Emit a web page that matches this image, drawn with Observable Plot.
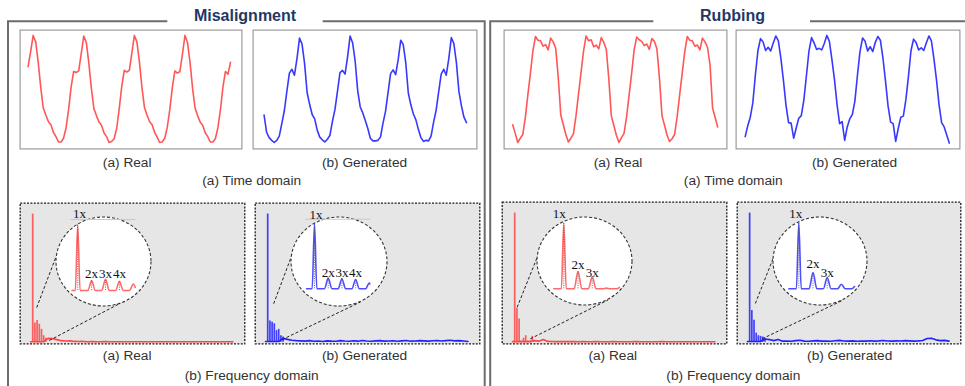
<!DOCTYPE html>
<html><head><meta charset="utf-8">
<script src="https://cdn.jsdelivr.net/npm/d3@7"></script>
<script src="https://cdn.jsdelivr.net/npm/@observablehq/plot@0.6"></script>
<style>
body{margin:0;background:#fff;}
#fig{position:relative;width:965px;height:386px;overflow:hidden;background:#fff;}
</style></head><body><div id="fig"></div>
<script>
// ---------------- DATA ----------------
const panelTitles = ["Misalignment", "Rubbing"];
const subLabels = ["(a) Real", "(b) Generated"];
const rowLabels = ["(a) Time domain", "(b) Frequency domain"];
const misInsetLabels = ["1x", "2x", "3x", "4x"];
const rubInsetLabels = ["1x", "2x", "3x"];

// time-domain waveforms (one value per sample)
const misRealWave = [0.42, 0.70,
 1.00, 0.88, 0.50, 0.03, -0.35, -0.48, -0.60, -0.66, -0.80, -0.88, -0.98, -0.98, -0.91, -0.72, -0.38, 0.04, 0.33, 0.31, 0.34, 0.66,
 0.99, 0.87, 0.49, 0.02, -0.36, -0.49, -0.61, -0.67, -0.81, -0.88, -0.99, -0.97, -0.92, -0.73, -0.37, 0.05, 0.35, 0.32, 0.35, 0.67,
 1.00, 0.88, 0.51, 0.03, -0.34, -0.48, -0.60, -0.66, -0.80, -0.89, -0.99, -0.98, -0.91, -0.71, -0.38, 0.03, 0.34, 0.30, 0.33, 0.65,
 1.00, 0.87, 0.50, 0.02, -0.35, -0.49, -0.61, -0.67, -0.81, -0.88, -0.98, -0.98, -0.92, -0.72, -0.39, 0.04, 0.33, 0.28, 0.50];
const misGenWave = [-0.48, -0.80, -0.90, -0.95, -0.99, -0.95, -0.87, -0.64, -0.40, -0.04, 0.30, 0.37, 0.26, 0.57,
 0.95, 0.84, 0.48, -0.06, -0.28, -0.47, -0.55, -0.76, -0.89, -0.94, -0.98, -0.93, -0.86, -0.60, -0.38, -0.04, 0.31, 0.35, 0.28, 0.60,
 0.99, 0.86, 0.52, -0.03, -0.33, -0.44, -0.58, -0.73, -0.91, -0.96, -0.96, -0.95, -0.89, -0.63, -0.41, -0.06, 0.29, 0.36, 0.27, 0.55,
 0.91, 0.83, 0.49, -0.07, -0.29, -0.46, -0.57, -0.75, -0.90, -0.97, -0.95, -0.96, -0.87, -0.61, -0.39, -0.05, 0.28, 0.37, 0.26, 0.57,
 0.96, 0.85, 0.50, -0.04, -0.31, -0.52, -0.62];
const rubRealWave = [-0.66, -0.82, -0.99, -0.91, -0.84, -0.52, -0.10, 0.30, 0.72,
 0.98, 0.91, 0.90, 0.80, 0.83, 0.73, 0.95, 0.88, 0.76, 0.22, -0.48, -0.66, -0.84, -0.98, -0.91, -0.83, -0.50, -0.09, 0.31, 0.71,
 0.99, 0.90, 0.92, 0.79, 0.82, 0.75, 0.96, 0.87, 0.74, 0.18, -0.50, -0.68, -0.86, -0.99, -0.90, -0.82, -0.52, -0.11, 0.29, 0.73,
 0.97, 0.92, 0.89, 0.81, 0.84, 0.74, 0.94, 0.89, 0.75, 0.21, -0.49, -0.67, -0.85, -0.97, -0.92, -0.84, -0.51, -0.10, 0.30, 0.70,
 0.98, 0.91, 0.90, 0.80, 0.82, 0.73, 0.95, 0.88, 0.78, 0.45, -0.35, -0.52, -0.70];
const rubGenWave = [-0.88, -0.68, -0.52, -0.25, 0.27, 0.72,
 0.94, 0.88, 0.72, 0.78, 0.71, 0.86, 0.99, 0.90, 0.57, 0.16, -0.30, -0.62, -0.63, -0.91, -0.72, -0.54, -0.49, -0.20, 0.25, 0.71,
 0.96, 0.86, 0.74, 0.76, 0.73, 0.85, 1.00, 0.89, 0.55, 0.18, -0.28, -0.64, -0.60, -0.95, -0.70, -0.55, -0.47, -0.22, 0.26, 0.70,
 0.95, 0.89, 0.71, 0.79, 0.70, 0.87, 0.98, 0.91, 0.58, 0.15, -0.31, -0.61, -0.64, -0.97, -0.73, -0.52, -0.50, -0.19, 0.24, 0.72,
 0.93, 0.87, 0.73, 0.77, 0.72, 0.86, 0.99, 0.90, 0.56, 0.17, -0.29, -0.62, -0.70, -0.85, -1.00];

// spectra: harmonic amplitudes (orders 1x, 2x, ...) relative to 1x
const misRealHarm = [1.0, 0.15, 0.17, 0.14, 0.10, 0.05, 0.03];
const misGenHarm  = [1.0, 0.165, 0.155, 0.143, 0.09, 0.10, 0.05, 0.04];
const rubRealHarm = [1.0, 0.26, 0.18, 0.01, 0.03, 0.05, 0.01, 0.01, 0.045];
const rubGenHarm  = [1.0, 0.245, 0.17, 0.07, 0.05, 0.045, 0.04, 0.03];
// spectra: broadband floor, every 2 orders from 0
const misRealFloor = [0.004,0.004,0.004,0.004,0.03,0.028,0.02,0.012,0.009,0.01,0.006,0.005,0.006,0.004,0.005,0.004,0.004,0.005,0.003,0.004,0.004,0.003,0.004,0.003,0.004,0.003,0.003,0.004,0.003,0.003,0.004,0.003,0.003,0.003,0.004,0.003,0.003,0.003,0.003,0.004,0.003,0.003,0.003,0.003,0.003,0.003,0.003];
const misGenFloor = [0.005,0.005,0.005,0.005,0.03,0.022,0.015,0.012,0.01,0.008,0.012,0.007,0.009,0.006,0.010,0.008,0.007,0.012,0.009,0.007,0.011,0.008,0.013,0.009,0.007,0.010,0.012,0.008,0.009,0.011,0.007,0.010,0.013,0.008,0.009,0.012,0.010,0.008,0.011,0.013,0.009,0.012,0.015,0.010,0.012,0.009,0.006];
const rubRealFloor = [0.004,0.004,0.004,0.004,0.004,0.012,0.008,0.02,0.006,0.005,0.004,0.005,0.004,0.004,0.004,0.003,0.004,0.003,0.003,0.004,0.003,0.003,0.003,0.004,0.003,0.003,0.003,0.003,0.004,0.003,0.003,0.003,0.003,0.003,0.004,0.003,0.003,0.003,0.003,0.003,0.003,0.003,0.003,0.003,0.003,0.003,0.003];
const rubGenFloor = [0.005,0.005,0.005,0.005,0.025,0.02,0.012,0.02,0.008,0.009,0.007,0.012,0.015,0.008,0.007,0.010,0.012,0.008,0.009,0.007,0.011,0.014,0.009,0.008,0.010,0.007,0.009,0.008,0.011,0.008,0.010,0.013,0.009,0.008,0.010,0.009,0.012,0.010,0.008,0.010,0.013,0.028,0.03,0.018,0.012,0.014,0.008];

// ---------------- LAYOUT / STYLE ----------------
const RED = "#ff4545", BLUE = "#2222ff";
const fig = document.getElementById("fig");
function place(node, left, top, w, h, z) {
  const div = document.createElement("div");
  div.style.cssText = `position:absolute;left:${left}px;top:${top}px;width:${w}px;height:${h}px;z-index:${z}`;
  div.appendChild(node);
  fig.appendChild(div);
}

// background: panel frames and captions
const back = d3.create("svg").attr("width", 965).attr("height", 386)
  .style("position", "absolute").style("left", 0).style("top", 0);
const frameStyle = s => s.attr("fill", "none").attr("stroke", "#6c6c6c").attr("stroke-width", 2);
const panels = [
  {x0: 8, x1: 484.7, gapL: 167.3, gapR: 322.7, tx: 245},
  {x0: 490.2, x1: 975, gapL: 653.3, gapR: 810, tx: 732.5}
];
panels.forEach((p, i) => {
  frameStyle(back.append("path").attr("d", `M${p.gapL},21.3H${p.x0}V390`));
  frameStyle(back.append("path").attr("d", `M${p.gapR},21.3H${p.x1}V390`));
  back.append("text").attr("x", p.tx).attr("y", 20.5).attr("text-anchor", "middle")
    .attr("font-family", "Liberation Sans, Arial, sans-serif").attr("font-weight", "bold")
    .attr("font-size", 16).attr("fill", "#1f3864").text(panelTitles[i]);
});
const captionPos = [
  [subLabels[0], 127.2, 166.5], [subLabels[1], 364.5, 166.5], [rowLabels[0], 251.7, 185.4],
  [subLabels[0], 618, 166.5], [subLabels[1], 854.5, 166.5], [rowLabels[0], 733.3, 185.4],
  [subLabels[0], 127.2, 360.4], [subLabels[1], 364.5, 360.4], [rowLabels[1], 251.7, 379.8],
  [subLabels[0], 612.8, 360.4], [subLabels[1], 849.7, 360.4], [rowLabels[1], 733.3, 379.8]
];
captionPos.forEach(([t, x, y]) => back.append("text").attr("x", x).attr("y", y)
  .attr("text-anchor", "middle").attr("font-family", "Liberation Sans, Arial, sans-serif")
  .attr("font-size", 13.7).attr("fill", "#333").text(t));
fig.appendChild(back.node());

// ---------- time-domain plots ----------
function timePlot(values, color, w, h, xDomain) {
  return Plot.plot({
    width: w, height: h, margin: 0,
    x: {domain: xDomain, axis: null},
    y: {domain: [-1.12, 1.11], axis: null},
    style: {background: "#fff", overflow: "visible"},
    marks: [
      Plot.frame({stroke: "#9c9c9c", strokeWidth: 1.2, inset: 0.6}),
      Plot.lineY(values, {stroke: color, strokeWidth: 1.6, strokeOpacity: 0.9})
    ]
  });
}
const timeCfg = [
  {v: misRealWave, c: RED, left: 19, w: 223, dom: [-3.40, 84.74]},
  {v: misGenWave, c: BLUE, left: 252, w: 225, dom: [-4.58, 84.35]},
  {v: rubRealWave, c: RED, left: 503, w: 224, dom: [-3.64, 84.9]},
  {v: rubGenWave, c: BLUE, left: 735, w: 225, dom: [-3.8, 84.4]}
];
timeCfg.forEach(t => place(timePlot(t.v, t.c, t.w, 120, t.dom), t.left, 29, t.w, 120, 1));

// ---------- frequency-domain plots ----------
const FX = [-5, 97.7], FY = [-0.018, 1.09];
const freqCfg = [
  {harm: misRealHarm, floor: misRealFloor, c: RED, left: 19, top: 202, w: 226, h: 142,
   ell: {cx: 103, cy: 261.5, rx: 47.5, ry: 44.5},
   links: [{o: 2.8, a: 0.27, ang: 188.5}, {o: 8.5, a: 0.013, ang: 72}],
   inset: {order0: 62.8, ppo: 13.9, base: 290, ppa: 65.7, range: [0.59, 5.14],
     labels: misInsetLabels, lab1: {dx: 1.8, amp: 1.10}, labAmp: [0.187, 0.187, 0.187],
     topLine: {amp: 1.08, x1: 0.52, x2: 5.19}}},
  {harm: misGenHarm, floor: misGenFloor, c: BLUE, left: 254, top: 202, w: 226, h: 142,
   ell: {cx: 339, cy: 261.5, rx: 48, ry: 44.5},
   links: [{o: 3.7, a: 0.30, ang: 190}, {o: 7.5, a: 0.02, ang: 64}],
   inset: {order0: 300.3, ppo: 13.7, base: 288.3, ppa: 65, range: [0.42, 5.04],
     labels: misInsetLabels, lab1: {dx: 1.5, amp: 1.08}, labAmp: [0.18, 0.18, 0.18],
     topLine: {amp: 1.07, x1: 0.34, x2: 5.09}}},
  {harm: rubRealHarm, floor: rubRealFloor, c: RED, left: 501, top: 201, w: 226, h: 143,
   ell: {cx: 584.5, cy: 261, rx: 47.5, ry: 44},
   links: [{o: 2.1, a: 0.27, ang: 188}, {o: 8.1, a: 0.026, ang: 61}],
   inset: {order0: 549.1, ppo: 14.2, base: 288.3, ppa: 66, range: [0.3, 4.92],
     labels: rubInsetLabels, lab1: {dx: -4.5, amp: 1.07}, labAmp: [0.30, 0.186]}},
  {harm: rubGenHarm, floor: rubGenFloor, c: BLUE, left: 736, top: 201, w: 225, h: 143,
   ell: {cx: 820, cy: 261, rx: 47, ry: 44},
   links: [{o: 3.6, a: 0.30, ang: 186}, {o: 6.7, a: 0.026, ang: 63}],
   inset: {order0: 784.1, ppo: 14.2, base: 288.3, ppa: 66, range: [0.3, 4.92],
     labels: rubInsetLabels, lab1: {dx: -3, amp: 1.07}, labAmp: [0.31, 0.186]}}
];

function freqPlot(f) {
  const E = f.ell;
  const toData = (px, py) => [FX[0] + (px - f.left) / f.w * (FX[1] - FX[0]),
                              FY[1] - (py - f.top) / f.h * (FY[1] - FY[0])];
  const links = f.links.map(l => {
    const r = l.ang * Math.PI / 180;
    const [x2, y2] = toData(E.cx + E.rx * Math.cos(r), E.cy + E.ry * Math.sin(r));
    return {x1: l.o, y1: l.a, x2, y2};
  });
  return Plot.plot({
    width: f.w, height: f.h, margin: 0,
    x: {domain: FX, axis: null}, y: {domain: FY, axis: null},
    style: {background: "#fff", overflow: "visible"},
    marks: [
      Plot.frame({fill: "#e6e6e6", stroke: "#1a1a1a", strokeWidth: 1.3, strokeDasharray: "2,1.4", inset: 0.7}),
      Plot.lineY(f.floor, {x: (d, i) => i * 2, y: d => d, stroke: f.c, strokeWidth: 1.6}),
      Plot.ruleX(f.harm, {x: (d, i) => i + 1, y1: 0, y2: d => d, stroke: f.c, strokeWidth: 1.7, strokeOpacity: 0.85}),
      Plot.link(links, {x1: "x1", y1: "y1", x2: "x2", y2: "y2", stroke: "#222", strokeWidth: 1, strokeDasharray: "3,2"})
    ]
  });
}

function insetPlot(f) {
  const E = f.ell, c = f.inset;
  const L = E.cx - E.rx - 6, T = E.cy - E.ry - 16, W = 2 * E.rx + 12, H = 2 * E.ry + 22;
  const xd = [(L - c.order0) / c.ppo, (L + W - c.order0) / c.ppo];
  const yd = [(c.base - (T + H)) / c.ppa, (c.base - T) / c.ppa];
  // zoomed spectrum outline built from harmonic amplitudes
  const pts = [[c.range[0], 0]];
  f.harm.forEach((a, i) => {
    const n = i + 1, hw = n === 1 ? 0.17 : 0.27;
    if (n - hw < c.range[1]) pts.push([n - hw, 0], [n, a], [n + hw, 0]);
  });
  const line = [];
  for (let k = 0; k < pts.length; k++) {
    const p = pts[k];
    if (p[0] <= c.range[1]) line.push(p);
    else { const q = pts[k - 1]; const t = (c.range[1] - q[0]) / (p[0] - q[0]); line.push([c.range[1], q[1] + t * (p[1] - q[1])]); break; }
  }
  if (line[line.length - 1][0] < c.range[1]) line.push([c.range[1], 0]);
  const marked = f.harm.slice(0, c.labels.length).map((a, i) => ({n: i + 1, a}));
  const labs = c.labels.map((t, i) => i === 0
    ? {t, x: 1 + c.lab1.dx / c.ppo, y: c.lab1.amp}
    : {t, x: i + 1, y: c.labAmp[i - 1]});
  const marks = [];
  if (c.topLine) marks.push(Plot.ruleY([c.topLine.amp], {x1: c.topLine.x1, x2: c.topLine.x2, stroke: "#c8c8c8", strokeWidth: 1}));
  marks.push(
    Plot.line(line, {x: d => d[0], y: d => d[1], stroke: f.c, strokeWidth: 1.6, strokeOpacity: 0.8, curve: "monotone-x"}),
    Plot.ruleX(marked, {x: "n", y1: 0, y2: "a", stroke: "#555", strokeWidth: 0.8, strokeDasharray: "1,1.3"}),
    Plot.text(labs, {x: "x", y: "y", text: "t", lineAnchor: "bottom", textAnchor: "middle",
      fontFamily: "Liberation Serif, Times New Roman, serif", fontSize: 13, fill: "#111"})
  );
  const svg = Plot.plot({
    width: W, height: H, margin: 0,
    x: {domain: xd, axis: null}, y: {domain: yd, axis: null},
    style: {background: "transparent", overflow: "visible"},
    marks
  });
  d3.select(svg).insert("ellipse", "g")
    .attr("cx", E.cx - L).attr("cy", E.cy - T).attr("rx", E.rx).attr("ry", E.ry)
    .attr("fill", "#fff").attr("stroke", "#333").attr("stroke-width", 1.1).attr("stroke-dasharray", "3,2");
  place(svg, L, T, W, H, 3);
}

freqCfg.forEach(f => {
  place(freqPlot(f), f.left, f.top, f.w, f.h, 1);
  insetPlot(f);
});
</script></body></html>
